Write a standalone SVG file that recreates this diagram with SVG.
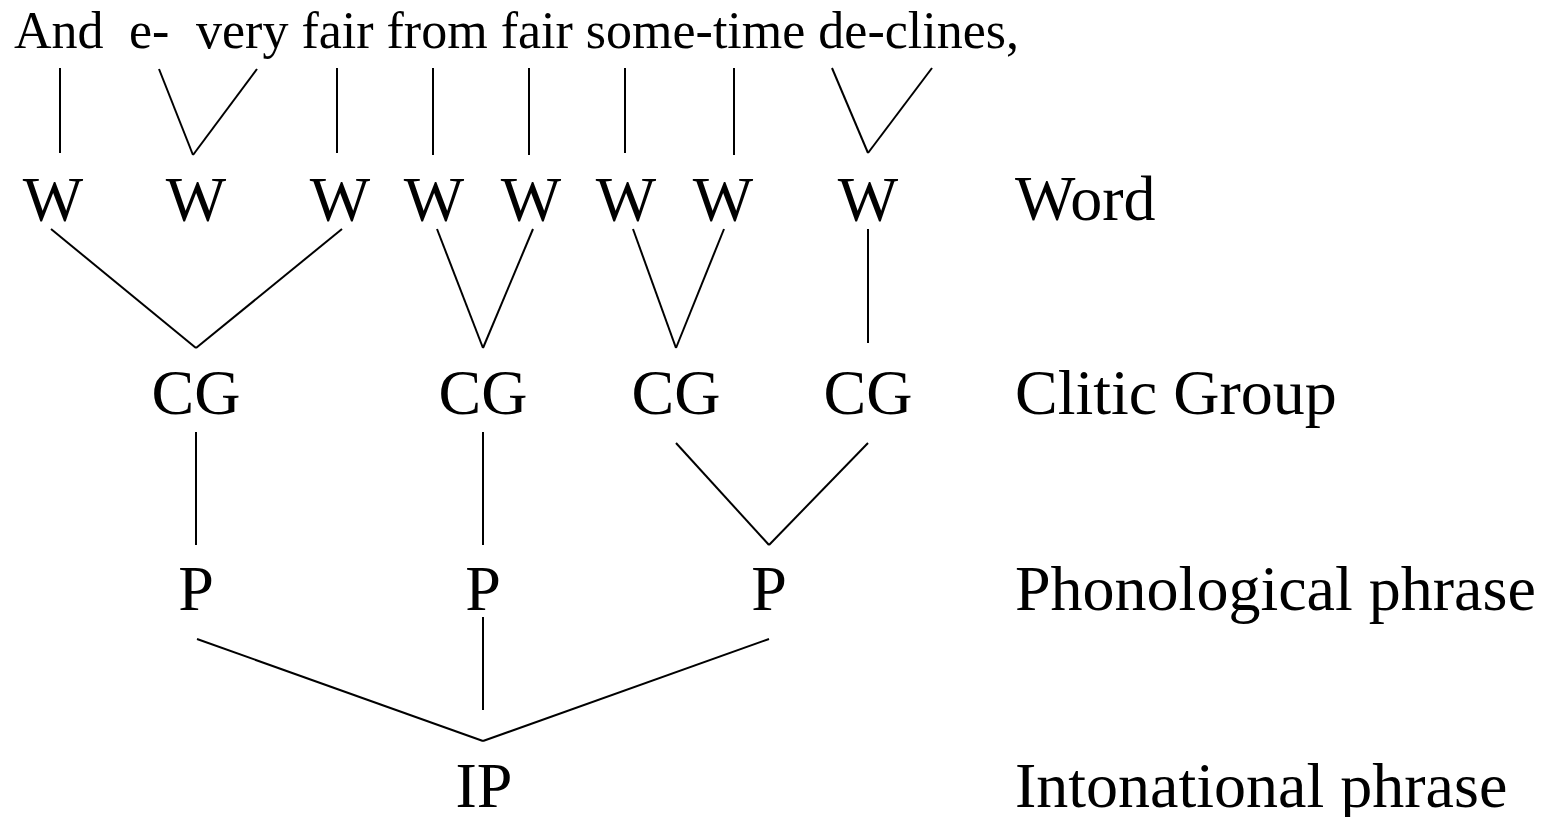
<svg xmlns="http://www.w3.org/2000/svg" width="1543" height="817" viewBox="0 0 1543 817">
  <style>
    text { font-family: "Liberation Serif", "Times New Roman", serif; fill: #000; }
    .verse { font-size: 52px; }
    .node { font-size: 64px; text-anchor: middle; }
    .level { font-size: 64px; }
    #connectors line { stroke: #000; stroke-width: 2; stroke-linecap: butt; }
  </style>
  <rect width="1543" height="817" fill="#fff"/>

  <!-- verse line, set with double spaces after "And" and "e-" -->
  <g id="verse" class="verse">
    <text x="14" y="48">And</text>
    <text x="129" y="48">e-</text>
    <text x="196" y="48">very fair from fair some-time de-clines,</text>
  </g>

  <!-- tree edges -->
  <g id="connectors">
    <!-- syllables to words -->
    <line x1="60" y1="68" x2="60" y2="153"/>
    <line x1="159" y1="69" x2="193" y2="155"/>
    <line x1="257" y1="69" x2="193" y2="155"/>
    <line x1="337" y1="68" x2="337" y2="153"/>
    <line x1="433" y1="68" x2="433" y2="155"/>
    <line x1="529" y1="68" x2="529" y2="155"/>
    <line x1="625" y1="68" x2="625" y2="153"/>
    <line x1="734" y1="68" x2="734" y2="155"/>
    <line x1="832" y1="68" x2="868" y2="153"/>
    <line x1="932" y1="68" x2="868" y2="153"/>
    <!-- words to clitic groups -->
    <line x1="51" y1="229" x2="196" y2="348"/>
    <line x1="342" y1="229" x2="196" y2="348"/>
    <line x1="437" y1="229" x2="483" y2="348"/>
    <line x1="533" y1="229" x2="483" y2="348"/>
    <line x1="633" y1="229" x2="676" y2="348"/>
    <line x1="724" y1="229" x2="676" y2="348"/>
    <line x1="868" y1="229" x2="868" y2="343"/>
    <!-- clitic groups to phonological phrases -->
    <line x1="196" y1="432" x2="196" y2="545"/>
    <line x1="483" y1="432" x2="483" y2="545"/>
    <line x1="676" y1="443" x2="769" y2="545"/>
    <line x1="868" y1="443" x2="769" y2="545"/>
    <!-- phonological phrases to intonational phrase -->
    <line x1="197" y1="639" x2="483" y2="741"/>
    <line x1="769" y1="639" x2="483" y2="741"/>
    <line x1="483" y1="617" x2="483" y2="710"/>
  </g>

  <!-- word level -->
  <g id="w1"><text class="node" x="53" y="221">W</text></g>
  <g id="w2"><text class="node" x="196" y="221">W</text></g>
  <g id="w3"><text class="node" x="340" y="221">W</text></g>
  <g id="w4"><text class="node" x="434" y="221">W</text></g>
  <g id="w5"><text class="node" x="531" y="221">W</text></g>
  <g id="w6"><text class="node" x="626" y="221">W</text></g>
  <g id="w7"><text class="node" x="723" y="221">W</text></g>
  <g id="w8"><text class="node" x="868" y="221">W</text></g>

  <!-- clitic group level -->
  <g id="cg1"><text class="node" x="196" y="414">CG</text></g>
  <g id="cg2"><text class="node" x="483" y="414">CG</text></g>
  <g id="cg3"><text class="node" x="676" y="414">CG</text></g>
  <g id="cg4"><text class="node" x="868" y="414">CG</text></g>

  <!-- phonological phrase level -->
  <g id="p1"><text class="node" x="196" y="610">P</text></g>
  <g id="p2"><text class="node" x="483" y="610">P</text></g>
  <g id="p3"><text class="node" x="769" y="610">P</text></g>

  <!-- intonational phrase -->
  <g id="ip"><text class="node" x="484" y="807">IP</text></g>

  <!-- level names -->
  <g id="levels" class="level">
    <text x="1015" y="220">Word</text>
    <text x="1015" y="414">Clitic Group</text>
    <text x="1015" y="610">Phonological phrase</text>
    <text x="1015" y="807">Intonational phrase</text>
  </g>
</svg>
